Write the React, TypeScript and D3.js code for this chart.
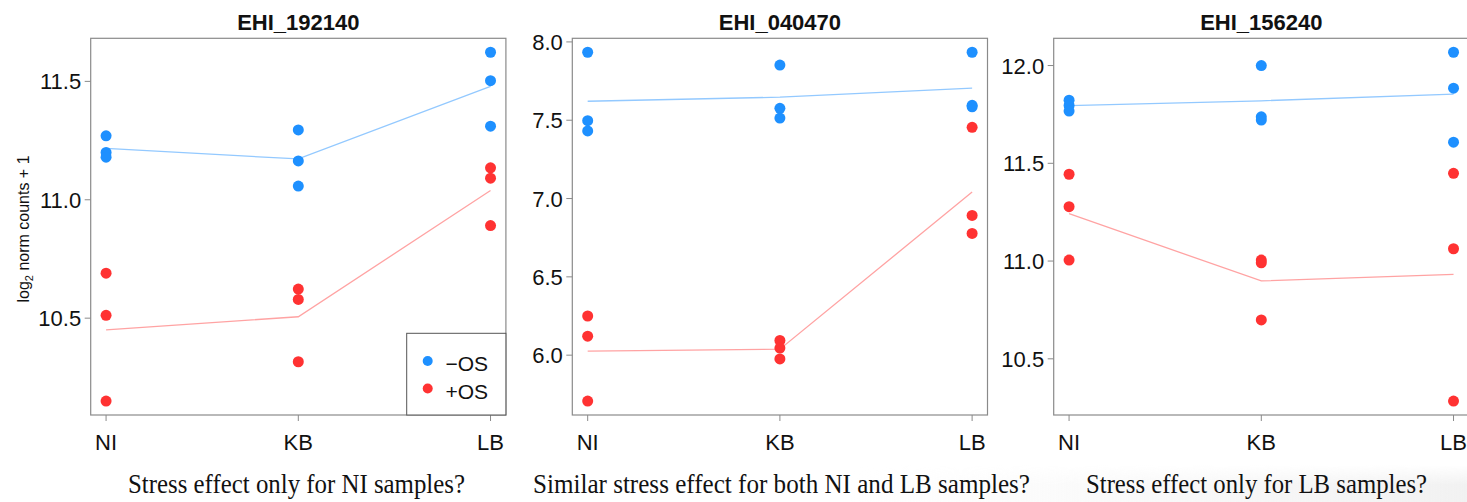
import React from "react";
import * as d3 from "d3";

// ---- data ----
const categories = ["NI", "KB", "LB"];
const seriesNames = ["\u2212OS", "+OS"];
const seriesColors = ["#1E90FF", "#FF3232"];
const lineColors = ["#93C9FF", "#FFA3A3"];

const genes = ["EHI_192140", "EHI_040470", "EHI_156240"];
const subtitles = [
  "Stress effect only for NI samples?",
  "Similar stress effect for both NI and LB samples?",
  "Stress effect only for LB samples?",
];

// values per category (NI, KB, LB), three replicates each
const ehi192140Minus = [[11.27, 11.20, 11.18], [11.295, 11.164, 11.058], [11.623, 11.503, 11.311]];
const ehi192140Plus = [[10.69, 10.512, 10.15], [10.623, 10.579, 10.316], [11.135, 11.091, 10.891]];

const ehi040470Minus = [[7.934, 7.497, 7.432], [7.852, 7.576, 7.514], [7.934, 7.586, 7.595]];
const ehi040470Plus = [[6.25, 6.121, 5.707], [6.094, 6.045, 5.976], [7.455, 6.892, 6.777]];

const ehi156240Minus = [[11.823, 11.796, 11.767], [12.0, 11.738, 11.721], [12.068, 11.884, 11.608]];
const ehi156240Plus = [[11.444, 11.278, 11.005], [11.005, 10.991, 10.699], [11.449, 11.063, 10.284]];

const yTicks192140 = [10.5, 11.0, 11.5];
const yTicks040470 = [6.0, 6.5, 7.0, 7.5, 8.0];
const yTicks156240 = [10.5, 11.0, 11.5, 12.0];

const panels = [
  { gene: genes[0], subtitle: subtitles[0], minus: ehi192140Minus, plus: ehi192140Plus, ticks: yTicks192140, legend: true },
  { gene: genes[1], subtitle: subtitles[1], minus: ehi040470Minus, plus: ehi040470Plus, ticks: yTicks040470, legend: false },
  { gene: genes[2], subtitle: subtitles[2], minus: ehi156240Minus, plus: ehi156240Plus, ticks: yTicks156240, legend: false },
];

// ---- layout ----
const W = 1467;
const H = 502;
const panelLefts = [90.7, 572.3, 1053.7];
const boxW = 415.2;
const boxTop = 38.3;
const boxBottom = 415;
const subtitleCenters = [296.5, 781.5, 1256.5];
const subtitleWidths = [337, 497, 341];
const SANS = "'Liberation Sans', Arial, Helvetica, sans-serif";
const SERIF = "'Liberation Serif', 'Times New Roman', serif";
const AXIS = "#8a8a8a";

function Panel({ p, left, idx }: any) {
  const right = left + boxW;
  const x = d3.scaleLinear().domain([0.92, 3.08]).range([left, right]);
  const all = [...p.minus.flat(), ...p.plus.flat()];
  const [mn, mx] = d3.extent(all) as [number, number];
  const pad = (mx - mn) * 0.04;
  const y = d3.scaleLinear().domain([mn - pad, mx + pad]).range([boxBottom, boxTop]);
  const line = d3
    .line<number>()
    .x((_, i) => x(i + 1))
    .y((v) => y(v));
  const cx = left + boxW / 2;
  const groups = [p.minus, p.plus];
  return (
    <g>
      <text x={cx} y={29.5} textAnchor="middle" fontFamily={SANS} fontWeight="bold" fontSize={22} fill="#111">
        {p.gene}
      </text>
      {groups.map((g: number[][], si: number) => (
        <path
          key={"l" + si}
          d={line(g.map((vals) => d3.mean(vals) as number)) || ""}
          fill="none"
          stroke={lineColors[si]}
          strokeWidth={1.3}
        />
      ))}
      {groups.map((g: number[][], si: number) =>
        g.map((vals, ci) =>
          vals.map((v, k) => (
            <circle key={`p${si}-${ci}-${k}`} cx={x(ci + 1)} cy={y(v)} r={5.5} fill={seriesColors[si]} />
          ))
        )
      )}
      <rect x={left} y={boxTop} width={boxW} height={boxBottom - boxTop} fill="none" stroke={AXIS} strokeWidth={1.2} />
      {p.ticks.map((t: number) => (
        <g key={"yt" + t}>
          <line x1={left - 6} x2={left} y1={y(t)} y2={y(t)} stroke={AXIS} strokeWidth={1} />
          <text x={left - 9.5} y={y(t) + 8} textAnchor="end" fontFamily={SANS} fontSize={22} fill="#111">
            {t.toFixed(1)}
          </text>
        </g>
      ))}
      {categories.map((c, i) => (
        <g key={"xt" + c}>
          <line x1={x(i + 1)} x2={x(i + 1)} y1={boxBottom} y2={boxBottom + 6} stroke={AXIS} strokeWidth={1} />
          <text x={x(i + 1)} y={450} textAnchor="middle" fontFamily={SANS} fontSize={22} fill="#111">
            {c}
          </text>
        </g>
      ))}
      <text
        x={subtitleCenters[idx]}
        y={493}
        textAnchor="middle"
        fontFamily={SERIF}
        fontSize={27}
        fill="#111"
        textLength={subtitleWidths[idx]}
        lengthAdjust="spacingAndGlyphs"
      >
        {p.subtitle}
      </text>
      {p.legend && (
        <g>
          <rect x={406.7} y={333.3} width={right - 406.7} height={boxBottom - 333.3} fill="white" stroke="#555" strokeWidth={1} />
          {seriesNames.map((s, i) => (
            <g key={"lg" + s}>
              <circle cx={427.7} cy={361 + i * 27.5} r={5} fill={seriesColors[i]} />
              <text x={445.5} y={371 + i * 27.5} fontFamily={SANS} fontSize={21} fill="#111">
                {s}
              </text>
            </g>
          ))}
        </g>
      )}
    </g>
  );
}

export default function App() {
  return (
    <svg width={W} height={H} style={{ position: "absolute", left: 0, top: 0, background: "white" }}>
      <defs>
        <linearGradient id="shadeH" x1="0" x2="1" y1="0" y2="0">
          <stop offset="0" stopColor="#f2f2f2" stopOpacity={0} />
          <stop offset="1" stopColor="#f0f0f0" stopOpacity={0.9} />
        </linearGradient>
        <linearGradient id="shadeVinv" x1="0" x2="0" y1="0" y2="1">
          <stop offset="0" stopColor="black" />
          <stop offset="1" stopColor="white" />
        </linearGradient>
        <mask id="fadeMask">
          <rect x={0} y={465} width={W} height={H - 465} fill="white" />
          <rect x={0} y={465} width={W} height={20} fill="url(#shadeVinv)" />
        </mask>
      </defs>
      <rect x={0} y={0} width={W} height={H} fill="white" />
      <rect x={850} y={465} width={W - 850} height={H - 465} fill="url(#shadeH)" mask="url(#fadeMask)" />
      {panels.map((p, i) => (
        <Panel key={p.gene} p={p} left={panelLefts[i]} idx={i} />
      ))}
      <text transform="translate(29,229) rotate(-90)" textAnchor="middle" fontFamily={SANS} fontSize={16} fill="#111">
        log<tspan fontSize={11} dy={4}>2</tspan>
        <tspan dy={-4}> norm counts + 1</tspan>
      </text>
    </svg>
  );
}
